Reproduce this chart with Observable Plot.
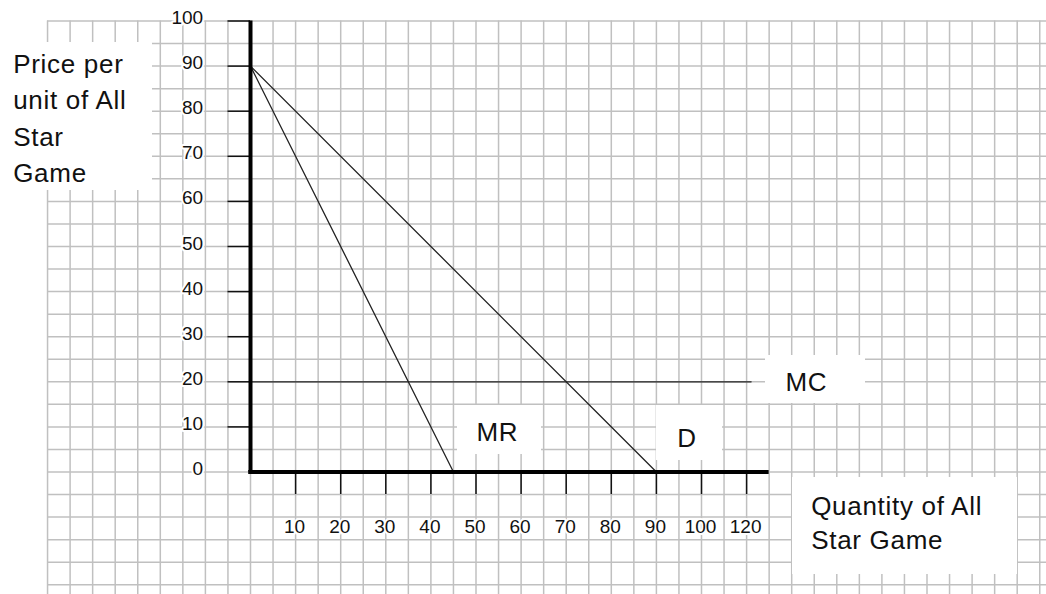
<!DOCTYPE html>
<html>
<head>
<meta charset="utf-8">
<script src="https://cdn.jsdelivr.net/npm/d3@7"></script>
<script src="https://cdn.jsdelivr.net/npm/@observablehq/plot@0.6"></script>
<style>
  html, body { margin: 0; padding: 0; background: #fff; overflow: hidden; }
  #chart svg { display: block; }
</style>
</head>
<body>
<div id="chart"></div>
<script>
// ---- Data ----
const demandQ = [0, 90];
const demandP = [90, 0];
const mrQ = [0, 45];
const mrP = [90, 0];
const mcQ = [0, 111];
const mcP = [20, 20];

const yTickValues = [10, 20, 30, 40, 50, 60, 70, 80, 90, 100];
const yLabelValues = [0, 10, 20, 30, 40, 50, 60, 70, 80, 90, 100];
const yLabelTexts = ["0", "10", "20", "30", "40", "50", "60", "70", "80", "90", "100"];
const xTickValues = [10, 20, 30, 40, 50, 60, 70, 80, 90, 100, 110];
const xTickLabels = ["10", "20", "30", "40", "50", "60", "70", "80", "90", "100", "120"];

const curveLabels = ["MR", "D", "MC"];
const yTitle = "Price per\nunit of All\nStar\nGame";
const xTitle = "Quantity of All\nStar Game";

// ---- Layout (pixel geometry of the graph paper) ----
const W = 1046, H = 594;
const K = 4.51;             // px per unit
const X0 = 250, Y0 = 471.5; // pixel of origin
const xDom = [-X0 / K, (W - X0) / K];
const yDom = [(Y0 - H) / K, Y0 / K];
const px = p => (p - X0) / K;      // pixel -> x data
const py = p => (Y0 - p) / K;      // pixel -> y data

const gridX = d3.range(-45, 176, 5);
const gridY = d3.range(-25, 101, 5);

const lineRows = (qs, ps) => qs.map((q, i) => ({q, p: ps[i]}));

const boxes = [
  {x1: px(0), x2: px(152), y1: py(42), y2: py(190)},     // y title
  {x1: px(457), x2: px(541), y1: py(405), y2: py(454)},  // MR
  {x1: px(656), x2: px(722), y1: py(405), y2: py(460)},  // D
  {x1: px(765), x2: px(865), y1: py(355), y2: py(403)},  // MC
  {x1: px(792), x2: px(1017), y1: py(477), y2: py(574)}  // x title
];

const labelPos = [
  {t: curveLabels[0], x: px(476), y: py(431.7)},
  {t: curveLabels[1], x: px(676.7), y: py(438.4)},
  {t: curveLabels[2], x: px(785), y: py(381.7)}
];

const ink = "#111";
const font = "'Liberation Sans', Arial, sans-serif";

const chart = Plot.plot({
  width: W, height: H,
  marginTop: 0, marginRight: 0, marginBottom: 0, marginLeft: 0,
  x: {domain: xDom, range: [0, W], axis: null},
  y: {domain: yDom, range: [H, 0], axis: null},
  style: {fontFamily: font, background: "#fff", color: ink},
  marks: [
    // graph paper
    Plot.ruleX(gridX, {x: d => d, y1: 100, y2: yDom[0], stroke: "#c0c0c0", strokeWidth: 1.5}),
    Plot.ruleY(gridY, {y: d => d, x1: -45, x2: xDom[1], stroke: "#c0c0c0", strokeWidth: 1.5}),
    // white text boxes
    Plot.rect(boxes, {x1: "x1", x2: "x2", y1: "y1", y2: "y2", fill: "#fff"}),
    // curves
    Plot.line(lineRows(demandQ, demandP), {x: "q", y: "p", stroke: "#222", strokeWidth: 1.3}),
    Plot.line(lineRows(mrQ, mrP), {x: "q", y: "p", stroke: "#222", strokeWidth: 1.3}),
    Plot.line(lineRows(mcQ, mcP), {x: "q", y: "p", stroke: "#222", strokeWidth: 1.3}),
    // ticks
    Plot.ruleY(yTickValues, {y: d => d, x1: -5, x2: 0, stroke: ink, strokeWidth: 1.5}),
    Plot.ruleX(xTickValues, {x: d => d, y1: 0, y2: -5, stroke: ink, strokeWidth: 1.5}),
    // axes
    Plot.ruleX([0], {y1: 0, y2: 100, stroke: "#000", strokeWidth: 4}),
    Plot.ruleY([0], {x1: -0.4, x2: 115, stroke: "#000", strokeWidth: 4}),
    // tick labels
    Plot.text(yLabelValues, {x: -10.5, y: d => d, text: (d, i) => yLabelTexts[i], textAnchor: "end", dy: -3,
      fontSize: 19, fill: ink, stroke: "#fff", strokeWidth: 4}),
    Plot.text(xTickValues, {x: d => d, y: py(526.9), text: (d, i) => xTickLabels[i], textAnchor: "middle", dx: -1,
      fontSize: 19, fill: ink, stroke: "#fff", strokeWidth: 4}),
    // curve labels
    Plot.text(labelPos, {x: "x", y: "y", text: "t", textAnchor: "start", fontSize: 26, fill: ink}),
    // axis titles
    Plot.text([yTitle], {x: px(12.7), y: py(47.2), text: d => d, textAnchor: "start", lineAnchor: "top",
      lineHeight: 1.39, fontSize: 26, fill: ink}),
    Plot.text([xTitle], {x: px(810.7), y: py(489.8), text: d => d, textAnchor: "start", lineAnchor: "top",
      lineHeight: 1.32, fontSize: 26, fill: ink})
  ]
});

chart.querySelectorAll('g[font-size="26"]').forEach(g => g.setAttribute("letter-spacing", "0.7"));

document.getElementById("chart").appendChild(chart);
</script>
</body>
</html>
